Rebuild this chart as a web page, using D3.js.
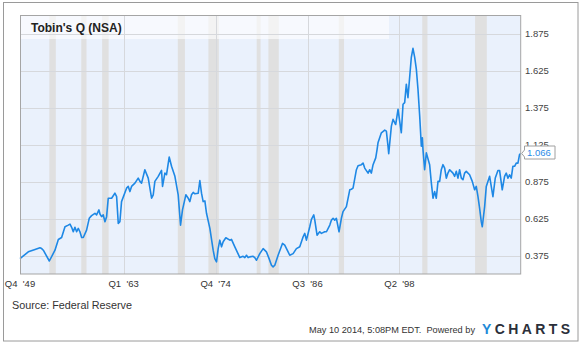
<!DOCTYPE html>
<html>
<head>
<meta charset="utf-8">
<script src="https://cdn.jsdelivr.net/npm/d3@7"></script>
<style>
  html, body { margin: 0; padding: 0; background: #fff; }
  svg { display: block; font-family: "Liberation Sans", Arial, sans-serif; }
</style>
</head>
<body>
<svg id="chart" width="584" height="345"></svg>
<script>
// ---- data ----
const years = [
  1949.75,1950.81,1951.67,1952.30,1952.52,1952.73,1953.50,1954.22,1954.65,1955.07,
  1955.50,1955.92,1956.14,1956.35,1956.56,1956.77,1956.99,1957.20,1957.41,1957.63,
  1957.84,1958.26,1958.60,1958.90,1959.33,1959.54,1959.84,1959.97,1960.18,1960.39,
  1960.61,1960.82,1961.03,1961.46,1961.88,1962.10,1962.31,1962.52,1962.73,1963.37,
  1963.59,1963.80,1964.01,1964.44,1964.86,1965.08,1965.29,1965.71,1966.14,1966.57,
  1966.78,1966.99,1967.42,1967.84,1967.97,1968.27,1968.48,1968.82,1969.12,1969.55,
  1969.97,1970.27,1970.52,1970.95,1971.25,1971.46,1971.67,1971.89,1972.10,1972.53,
  1972.74,1972.95,1973.16,1973.38,1973.59,1974.02,1974.44,1974.65,1974.87,1975.08,
  1975.29,1975.51,1975.72,1976.06,1976.57,1976.78,1977.21,1977.85,1978.27,1978.49,
  1978.70,1978.91,1979.12,1979.55,1979.76,1979.98,1980.40,1980.83,1981.25,1981.59,
  1981.89,1982.10,1982.32,1982.74,1983.30,1983.59,1984.02,1984.23,1984.66,1985.08,
  1985.51,1985.94,1986.15,1986.36,1986.79,1987.00,1987.30,1987.43,1987.72,1988.06,
  1988.28,1988.70,1988.92,1989.35,1989.56,1989.77,1989.98,1990.19,1990.53,1990.83,
  1991.04,1991.47,1991.90,1992.11,1992.32,1992.75,1992.96,1993.39,1993.60,1993.81,
  1994.24,1994.45,1994.66,1994.88,1995.22,1995.39,1995.51,1995.94,1996.37,1996.58,
  1996.79,1996.88,1997.22,1997.43,1997.77,1998.07,1998.49,1998.71,1998.92,1999.13,
  1999.34,1999.77,1999.98,2000.20,2000.41,2000.62,2000.84,2001.05,2001.18,2001.26,
  2001.47,2001.69,2002.11,2002.33,2002.54,2002.75,2002.96,2003.18,2003.39,2003.60,
  2003.81,2004.03,2004.24,2004.45,2004.67,2005.09,2005.31,2005.52,2005.73,2005.94,
  2006.16,2006.37,2006.58,2006.79,2007.22,2007.56,2007.86,2008.07,2008.29,2008.50,
  2008.71,2008.84,2009.14,2009.35,2009.78,2010.20,2010.50,2010.84,2011.05,2011.39,
  2011.69,2011.90,2012.12,2012.33,2012.54,2012.75,2012.97,2013.18,2013.40,2013.60,
  2013.75
];
const tobinQ = [
  0.354,0.400,0.416,0.427,0.422,0.411,0.338,0.411,0.484,0.497,
  0.570,0.581,0.588,0.566,0.536,0.566,0.536,0.559,0.536,0.497,
  0.497,0.547,0.627,0.645,0.661,0.650,0.684,0.656,0.638,0.650,
  0.604,0.638,0.763,0.763,0.797,0.774,0.593,0.604,0.740,0.831,
  0.843,0.808,0.843,0.865,0.899,0.877,0.865,0.956,0.899,0.763,
  0.786,0.877,0.911,0.951,0.843,0.933,0.922,1.042,0.979,0.911,
  0.786,0.581,0.684,0.786,0.763,0.740,0.786,0.802,0.793,0.797,
  0.883,0.797,0.740,0.745,0.661,0.559,0.411,0.354,0.332,0.422,
  0.479,0.434,0.468,0.495,0.479,0.484,0.434,0.361,0.370,0.361,
  0.377,0.361,0.366,0.370,0.361,0.343,0.388,0.422,0.400,0.354,
  0.309,0.298,0.309,0.377,0.457,0.445,0.400,0.377,0.388,0.422,
  0.434,0.502,0.525,0.479,0.570,0.620,0.650,0.615,0.513,0.536,
  0.525,0.536,0.536,0.581,0.615,0.627,0.615,0.627,0.536,0.627,
  0.672,0.706,0.820,0.824,0.831,0.956,0.983,0.990,1.001,0.967,
  0.933,0.956,0.933,0.990,1.036,1.092,1.138,1.206,1.224,1.217,
  1.115,1.065,1.251,1.297,1.262,1.365,1.206,1.399,1.410,1.535,
  1.444,1.717,1.778,1.717,1.637,1.501,1.319,1.115,1.172,1.092,
  0.956,1.070,0.990,0.865,0.763,0.808,0.763,0.877,0.877,0.956,
  0.990,0.967,0.899,0.933,0.956,0.933,0.911,0.945,0.899,0.956,
  0.899,0.888,0.933,0.945,0.922,0.877,0.820,0.843,0.774,0.695,
  0.604,0.570,0.706,0.843,0.911,0.774,0.900,0.951,0.951,0.820,
  0.911,0.933,0.899,0.922,0.899,0.979,0.979,1.001,1.000,1.058,
  1.066
];
// recession bands (start / end, fractional years)
const recessionStart = [1953.50,1957.58,1960.25,1969.92,1973.83,1980.00,1981.50,1990.50,2001.17,2007.92];
const recessionEnd   = [1954.33,1958.25,1961.08,1970.83,1975.17,1980.50,1982.83,1991.17,2001.83,2009.42];
// axis ticks
const xTickYears  = [1949.75, 1963.00, 1974.75, 1986.50, 1998.25];
const xTickLabels = ["Q4  '49", "Q1  '63", "Q4  '74", "Q3  '86", "Q2  '98"];
const yTicks      = [0.375, 0.625, 0.875, 1.125, 1.375, 1.625, 1.875];
const yTickLabels = ["0.375", "0.625", "0.875", "1.125", "1.375", "1.625", "1.875"];
const chartTitle  = "Tobin's Q (NSA)";
const lastLabel   = "1.066";
const sourceText  = "Source: Federal Reserve";
const footerText  = "May 10 2014, 5:08PM EDT.  Powered by";

// ---- drawing ----
const svg = d3.select("#chart");
const L = 20, R = 520.7, T = 15.5, B = 274;

const x = d3.scaleLinear().domain([1949.75, 2013.75]).range([L, R]);
const y = d3.scaleLinear().domain([0.25, 2.0]).range([B, T]);

// outer frame
svg.append("rect").attr("x", 3.5).attr("y", 2.5).attr("width", 574.5).attr("height", 338.5)
  .attr("fill", "#fff").attr("stroke", "#9a9a9a").attr("stroke-width", 1);

// plot background
svg.append("rect").attr("x", L).attr("y", T).attr("width", R - L).attr("height", B - T)
  .attr("fill", "#eaf1fc");

// recession bands
svg.append("g").selectAll("rect").data(recessionStart).join("rect")
  .attr("x", (d) => x(d))
  .attr("y", T)
  .attr("width", (d, i) => x(recessionEnd[i]) - x(d))
  .attr("height", B - T)
  .attr("fill", "#e0e0e0");

// title band
svg.append("rect").attr("x", L).attr("y", T).attr("width", 389 - L).attr("height", 39 - T)
  .attr("fill", "#ffffff").attr("fill-opacity", 0.6);

// grid lines
svg.append("g").selectAll("line").data(yTicks).join("line")
  .attr("x1", L).attr("x2", R)
  .attr("y1", (d) => Math.round(y(d)) + 0.5).attr("y2", (d) => Math.round(y(d)) + 0.5)
  .attr("stroke", "#d6d8dc").attr("stroke-width", 1);
svg.append("g").selectAll("line").data(xTickYears.slice(1)).join("line")
  .attr("x1", (d) => Math.round(x(d)) + 0.5).attr("x2", (d) => Math.round(x(d)) + 0.5)
  .attr("y1", T).attr("y2", B)
  .attr("stroke", "#d6d8dc").attr("stroke-width", 1);

// title
svg.append("text").attr("x", 31).attr("y", 31.5)
  .attr("font-size", 12).attr("font-weight", "bold").attr("fill", "#222")
  .text(chartTitle);

// series line
const line = d3.line().x((d, i) => x(years[i])).y((d) => y(d));
svg.append("path").datum(tobinQ)
  .attr("d", line)
  .attr("fill", "none").attr("stroke", "#1e88e5").attr("stroke-width", 1.6)
  .attr("stroke-linejoin", "round");

// plot border
svg.append("rect").attr("x", L + 0.5).attr("y", T).attr("width", R - L - 0.5).attr("height", B - T)
  .attr("fill", "none").attr("stroke", "#a5a5a5").attr("stroke-width", 1);

// y axis labels (right)
svg.append("g").selectAll("text").data(yTicks).join("text")
  .attr("x", 525).attr("y", (d) => y(d) + 3.4)
  .attr("font-size", 9.5).attr("fill", "#444")
  .text((d, i) => yTickLabels[i]);

// x axis labels
svg.append("g").selectAll("text").data(xTickYears).join("text")
  .attr("x", (d) => x(d)).attr("y", 287)
  .attr("text-anchor", "middle")
  .attr("font-size", 9.5).attr("fill", "#333")
  .style("white-space", "pre")
  .text((d, i) => xTickLabels[i]);

// last value flag
const lx = x(years[years.length - 1]), ly = y(tobinQ[tobinQ.length - 1]);
const bx = 524.5, by = 146, bw = 30.5, bh = 13;
svg.append("path")
  .attr("d", `M${bx},${by} L${bx + bw},${by} L${bx + bw},${by + bh} L${bx},${by + bh} L${bx},${ly + 3.5} L${lx + 1},${ly} L${bx},${ly - 3.5} Z`)
  .attr("fill", "#fff").attr("stroke", "#a0a0a0").attr("stroke-width", 1);
svg.append("text").attr("x", bx + 2.5).attr("y", by + 10)
  .attr("font-size", 9.5).attr("fill", "#2a8be6")
  .text(lastLabel);

// source
svg.append("text").attr("x", 12).attr("y", 308.5)
  .attr("font-size", 10.8).attr("fill", "#333")
  .text(sourceText);

// footer
svg.append("text").attr("x", 309).attr("y", 333)
  .attr("font-size", 9.2).attr("fill", "#333")
  .style("white-space", "pre")
  .text(footerText);
const logo = svg.append("text").attr("x", 482).attr("y", 334)
  .attr("font-size", 14).attr("font-weight", "bold")
  .attr("textLength", 88).attr("lengthAdjust", "spacing");
logo.append("tspan").attr("fill", "#1e8ad8").text("Y");
logo.append("tspan").attr("fill", "#2b2f3a").text("CHARTS");
</script>
</body>
</html>
